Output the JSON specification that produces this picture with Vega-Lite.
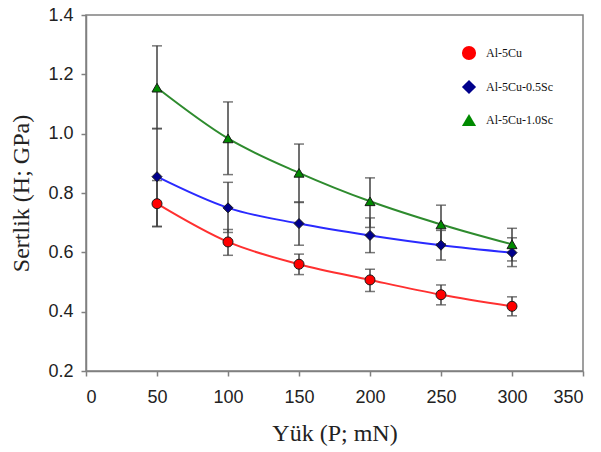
{
  "$schema": "https://vega.github.io/schema/vega-lite/v6.json",
  "width": 497,
  "height": 356,
  "autosize": {"type": "none"},
  "padding": {"left": 86, "top": 15, "right": 18, "bottom": 81},
  "background": "white",
  "config": {
    "view": {"stroke": "#808080", "strokeWidth": 1.5},
    "axis": {
      "domainColor": "#808080", "domainWidth": 1.5, "tickColor": "#808080", "tickWidth": 1.5, "tickSize": 5,
      "grid": false, "labelFont": "Liberation Sans", "labelFontSize": 18, "labelColor": "#222",
      "titleFont": "Liberation Serif", "titleFontSize": 24, "titleFontWeight": "normal", "titleColor": "#222"
    },
    "legend": {
      "labelFont": "Liberation Serif", "labelFontSize": 12, "labelColor": "#111"
    }
  },
  "data": {
    "values": [
      {"load": 50, "alloy": "Al-5Cu", "H": 0.764, "lo": 0.686, "hi": 0.842},
      {"load": 100, "alloy": "Al-5Cu", "H": 0.635, "lo": 0.590, "hi": 0.677},
      {"load": 150, "alloy": "Al-5Cu", "H": 0.560, "lo": 0.525, "hi": 0.594},
      {"load": 200, "alloy": "Al-5Cu", "H": 0.507, "lo": 0.468, "hi": 0.543},
      {"load": 250, "alloy": "Al-5Cu", "H": 0.457, "lo": 0.423, "hi": 0.490},
      {"load": 300, "alloy": "Al-5Cu", "H": 0.418, "lo": 0.386, "hi": 0.450},
      {"load": 50, "alloy": "Al-5Cu-0.5Sc", "H": 0.855, "lo": 0.688, "hi": 1.018},
      {"load": 100, "alloy": "Al-5Cu-0.5Sc", "H": 0.750, "lo": 0.667, "hi": 0.836},
      {"load": 150, "alloy": "Al-5Cu-0.5Sc", "H": 0.697, "lo": 0.624, "hi": 0.770},
      {"load": 200, "alloy": "Al-5Cu-0.5Sc", "H": 0.657, "lo": 0.599, "hi": 0.716},
      {"load": 250, "alloy": "Al-5Cu-0.5Sc", "H": 0.624, "lo": 0.574, "hi": 0.674},
      {"load": 300, "alloy": "Al-5Cu-0.5Sc", "H": 0.599, "lo": 0.552, "hi": 0.649},
      {"load": 50, "alloy": "Al-5Cu-1.0Sc", "H": 1.155, "lo": 1.016, "hi": 1.296},
      {"load": 100, "alloy": "Al-5Cu-1.0Sc", "H": 0.984, "lo": 0.862, "hi": 1.107},
      {"load": 150, "alloy": "Al-5Cu-1.0Sc", "H": 0.868, "lo": 0.768, "hi": 0.965},
      {"load": 200, "alloy": "Al-5Cu-1.0Sc", "H": 0.772, "lo": 0.684, "hi": 0.851},
      {"load": 250, "alloy": "Al-5Cu-1.0Sc", "H": 0.694, "lo": 0.629, "hi": 0.759},
      {"load": 300, "alloy": "Al-5Cu-1.0Sc", "H": 0.627, "lo": 0.571, "hi": 0.681}
    ]
  },
  "encoding": {
    "x": {
      "field": "load", "type": "quantitative",
      "scale": {"domain": [0, 350], "nice": false},
      "axis": {"values": [0, 50, 100, 150, 200, 250, 300, 350], "title": "Yük (P; mN)", "labelPadding": 12, "titlePadding": 15}
    }
  },
  "layer": [
    {
      "mark": {"type": "rule", "color": "#404040", "strokeWidth": 1.5},
      "encoding": {
        "y": {"field": "lo", "type": "quantitative", "scale": {"domain": [0.2, 1.4], "nice": false},
              "axis": {"values": [0.2, 0.4, 0.6, 0.8, 1.0, 1.2, 1.4], "format": ".1f", "title": "Sertlik (H; GPa)", "labelPadding": 8, "titlePadding": 14}},
        "y2": {"field": "hi"}
      }
    },
    {
      "mark": {"type": "tick", "orient": "horizontal", "color": "#404040", "size": 10, "thickness": 1.5},
      "encoding": {"y": {"field": "lo", "type": "quantitative"}}
    },
    {
      "mark": {"type": "tick", "orient": "horizontal", "color": "#404040", "size": 10, "thickness": 1.5},
      "encoding": {"y": {"field": "hi", "type": "quantitative"}}
    },
    {
      "transform": [{"filter": "datum.alloy == 'Al-5Cu'"}],
      "mark": {"type": "line", "interpolate": "monotone", "strokeWidth": 2, "color": "#ff3030"},
      "encoding": {"y": {"field": "H", "type": "quantitative"}}
    },
    {
      "transform": [{"filter": "datum.alloy == 'Al-5Cu-0.5Sc'"}],
      "mark": {"type": "line", "interpolate": "monotone", "strokeWidth": 2, "color": "#2a2aff"},
      "encoding": {"y": {"field": "H", "type": "quantitative"}}
    },
    {
      "transform": [{"filter": "datum.alloy == 'Al-5Cu-1.0Sc'"}],
      "mark": {"type": "line", "interpolate": "monotone", "strokeWidth": 2, "color": "#2e8b2e"},
      "encoding": {"y": {"field": "H", "type": "quantitative"}}
    },
    {
      "mark": {"type": "point", "filled": true, "opacity": 1, "size": 100, "stroke": "#1a1a1a", "strokeWidth": 1},
      "encoding": {
        "y": {"field": "H", "type": "quantitative"},
        "fill": {"field": "alloy", "type": "nominal",
                 "scale": {"domain": ["Al-5Cu", "Al-5Cu-0.5Sc", "Al-5Cu-1.0Sc"], "range": ["#ff0000", "#00008b", "#008a00"]},
                 "legend": {"title": null, "orient": "none", "legendX": 375, "legendY": 30, "symbolSize": 200,
                            "rowPadding": 14, "labelOffset": 9, "symbolStrokeColor": "#1a1a1a", "symbolStrokeWidth": 1}},
        "shape": {"field": "alloy", "type": "nominal",
                  "scale": {"domain": ["Al-5Cu", "Al-5Cu-0.5Sc", "Al-5Cu-1.0Sc"], "range": ["circle", "diamond", "triangle-up"]},
                  "legend": {"title": null, "orient": "none", "legendX": 375, "legendY": 30, "symbolSize": 200,
                             "rowPadding": 14, "labelOffset": 9, "symbolStrokeColor": "#1a1a1a", "symbolStrokeWidth": 1}}
      }
    }
  ]
}
